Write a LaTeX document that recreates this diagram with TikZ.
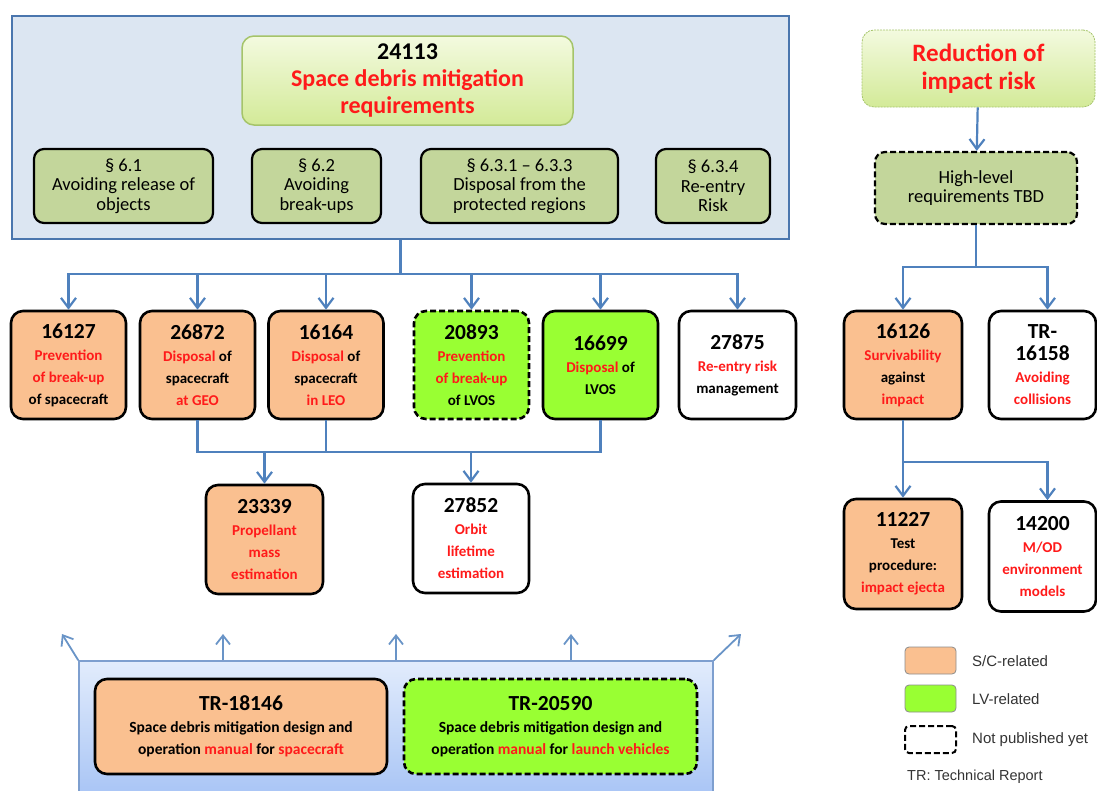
\documentclass[tikz,border=0pt]{standalone}
\usepackage{fontspec}
\setmainfont{Carlito}
\newfontfamily\legendfont{Liberation Sans}
\usetikzlibrary{arrows.meta,calc}

\definecolor{framefill}{HTML}{DCE6F2}
\definecolor{frameline}{HTML}{4A76AE}
\definecolor{connblue}{HTML}{4F81BD}
\definecolor{olive}{HTML}{C3D69B}
\definecolor{scorange}{HTML}{FAC090}
\definecolor{lvgreen}{HTML}{99FF33}
\definecolor{paletop}{HTML}{F3FADF}
\definecolor{palebot}{HTML}{D3EA98}
\definecolor{paleline}{HTML}{A5C46A}
\definecolor{tmtop}{HTML}{E2ECFC}
\definecolor{tmbot}{HTML}{A6C3F5}
\definecolor{tmline}{HTML}{7E9FCF}
\definecolor{hilite}{HTML}{FF1A1A}

\newcommand{\hl}[1]{\textcolor{hilite}{#1}}
\newcommand{\docno}[1]{{\fontsize{21.5}{22}\selectfont #1}}

\begin{document}
\begin{tikzpicture}[x=1pt,y=-1pt]
    % `frame' is the big box round 24113, `manuals' the box round the TRs.
    % `doc' is used for every standard box, `sect' for the § boxes.
    % `feed' is used for the blue arrows.
    \tikzstyle{frame} = [draw=frameline,fill=framefill,line width=2pt,inner sep=0pt]
    \tikzstyle{headbox} = [draw=paleline,top color=paletop,bottom color=palebot,line width=1.5pt,
                           rounded corners=12pt,align=center,inner sep=0pt,
                           font=\fontsize{24}{27}\selectfont\bfseries]
    \tikzstyle{sect} = [draw,fill=olive,line width=2.2pt,rounded corners=10pt,align=center,
                        inner sep=0pt,font=\fontsize{18.5}{19.5}\selectfont]
    \tikzstyle{doc} = [draw,fill=white,line width=2.6pt,rounded corners=12pt,align=center,
                       inner sep=0pt,minimum width=115,minimum height=108,
                       font=\fontsize{15}{22}\selectfont\bfseries]
    \tikzstyle{sc} = [fill=scorange]
    \tikzstyle{lv} = [fill=lvgreen]
    \tikzstyle{notyet} = [dash pattern=on 6pt off 3pt]
    \tikzstyle{conn} = [draw=connblue,line width=2.2pt]
    \tikzstyle{feed} = [conn,-{Straight Barb[length=10pt,width=15pt,line width=2.2pt]}]
    \tikzstyle{upfeed} = [draw=connblue!85!white,line width=1.8pt,-{Straight Barb[length=9pt,width=14pt,line width=1.8pt]}]
    \tikzstyle{swatch} = [draw=black!45,line width=0.8pt,rounded corners=4pt,minimum width=51,minimum height=27,inner sep=0pt]
    \tikzstyle{legend} = [anchor=west,inner sep=0pt,text=black!80,font=\legendfont\fontsize{15}{18}\selectfont]
    %
    \useasboundingbox (0,0) rectangle (1097,790);
    %
    % Requirements standard and its sections.
    \node[frame,minimum width=777,minimum height=223] (frame) at (400.5,127.5) {};
    \node[headbox,minimum width=331,minimum height=89] (req) at (407.5,80.5)
      {24113\\\hl{Space debris mitigation}\\\hl{requirements}};
    \node[sect,minimum width=179,minimum height=74] (s61) at (123.5,186) {§ 6.1\\Avoiding release of\\objects};
    \node[sect,minimum width=129,minimum height=74] (s62) at (316.5,186) {§ 6.2\\Avoiding\\break-ups};
    \node[sect,minimum width=197,minimum height=74] (s631) at (519.5,186) {§ 6.3.1 – 6.3.3\\Disposal from the\\protected regions};
    \node[sect,minimum width=114,minimum height=74] (s634) at (713,186) {§ 6.3.4\\Re-entry\\Risk};
    %
    % Second level.
    \node[doc,sc] (d16127) at (68.5,365) {\docno{16127}\\\hl{Prevention}\\\hl{of break-up}\\of spacecraft};
    \node[doc,sc] (d26872) at (197.5,365) {\docno{26872}\\\hl{Disposal} of\\spacecraft\\\hl{at GEO}};
    \node[doc,sc] (d16164) at (326,365) {\docno{16164}\\\hl{Disposal} of\\spacecraft\\\hl{in LEO}};
    \node[doc,lv,notyet] (d20893) at (471.5,365) {\docno{20893}\\\hl{Prevention}\\\hl{of break-up}\\of LVOS};
    \node[doc,lv] (d16699) at (600.5,365) {\docno{16699}\\\hl{Disposal} of\\LVOS};
    \node[doc,minimum width=117] (d27875) at (737.5,365) {\docno{27875}\\\hl{Re-entry risk}\\management};
    %
    % Third level.
    \node[doc,sc,minimum width=117,minimum height=109] (d23339) at (264.5,539.5) {\docno{23339}\\\hl{Propellant}\\\hl{mass}\\\hl{estimation}};
    \node[doc,minimum width=116,minimum height=109] (d27852) at (471,538.5) {\docno{27852}\\\hl{Orbit}\\\hl{lifetime}\\\hl{estimation}};
    %
    % Impact risk branch.
    \node[headbox,draw=paleline,line width=0.8pt,dash pattern=on 2pt off 1pt,
          minimum width=233,minimum height=77,font=\fontsize{25}{28}\selectfont\bfseries]
      (risk) at (978.5,68.5) {\hl{Reduction of}\\\hl{impact risk}};
    \node[sect,notyet,minimum width=202,minimum height=72] (tbd) at (976,188) {High-level\\requirements TBD};
    \node[doc,sc,minimum width=118] (d16126) at (903,365) {\docno{16126}\\\hl{Survivability}\\against\\\hl{impact}};
    \node[doc,minimum width=107] (d16158) at (1042.5,365) {\docno{TR-}\\\docno{16158}\\\hl{Avoiding}\\\hl{collisions}};
    \node[doc,sc,minimum width=118,minimum height=110] (d11227) at (903,554) {\docno{11227}\\Test\\procedure:\\\hl{impact ejecta}};
    \node[doc,minimum width=107,minimum height=110] (d14200) at (1042.5,556.5) {\docno{14200}\\\hl{M/OD}\\\hl{environment}\\\hl{models}};
    %
    % Technical reports.
    \node[draw=tmline,top color=tmtop,bottom color=tmbot,line width=1.5pt,
          minimum width=634,minimum height=140,inner sep=0pt] (manuals) at (396,731) {};
    \node[doc,sc,minimum width=292,minimum height=95,font=\fontsize{15.5}{22}\selectfont\bfseries] (tr18146) at (241,726.5)
      {\docno{TR-18146}\\Space debris mitigation\ design and\\operation \hl{manual} for \hl{spacecraft}};
    \node[doc,lv,notyet,minimum width=293,minimum height=95,font=\fontsize{15.5}{22}\selectfont\bfseries] (tr20590) at (550.5,726.5)
      {\docno{TR-20590}\\Space debris mitigation\ design and\\operation \hl{manual} for \hl{launch vehicles}};
    %
    % Legend.
    \node[swatch,fill=scorange] (keysc) at (930.5,660.5) {};
    \node[swatch,fill=lvgreen] (keylv) at (930.5,698.5) {};
    \node[swatch,draw=black,line width=2pt,notyet,fill=white] (keyny) at (930.5,739.5) {};
    \node[legend] (labsc) at (972,661) {S/C-related};
    \node[legend] (lablv) at (972,699) {LV-related};
    \node[legend] (labny) at (972,740) {Not published yet};
    \node[legend,font=\legendfont\fontsize{14.5}{18}\selectfont] (labtr) at (907,777) {TR: Technical Report};
    %
    % Draw lines.
    \coordinate (bus1) at (400.5,274);
    \foreach \n in {d16127,d26872,d16164,d20893,d16699,d27875}
      \draw[feed] (frame.south) -- (bus1) -| (\n.north);
    \coordinate (bus2) at (0,452);
    \draw[conn] (d26872.south) -- (d26872.south |- bus2) -- (d16699.south |- bus2) -- (d16699.south);
    \draw[conn] (d16164.south) -- (d16164.south |- bus2);
    \draw[feed] (d23339.north |- bus2) -- (d23339.north);
    \draw[feed] (d27852.north |- bus2) -- (d27852.north);
    \draw[feed] (risk) -- (tbd);
    \coordinate (bus3) at (976,267);
    \draw[feed] (tbd.south) -- (bus3) -| (d16126.north);
    \draw[feed] (tbd.south) -- (bus3) -| ($(d16158.north)+(5,0)$);
    \coordinate (bus4) at (903,462);
    \draw[feed] (d16126.south) -- (bus4) -| (d11227.north);
    \draw[feed] (d16126.south) -- (bus4) -| ($(d14200.north)+(5,0)$);
    % Arrows leaving the manuals.
    \coordinate (up1) at (62,634);
    \coordinate (up2) at (223,634);
    \coordinate (up3) at (396,634);
    \coordinate (up4) at (571,634);
    \coordinate (up5) at (741,634);
    \draw[upfeed] (manuals.north west) -- (up1);
    \draw[upfeed] (manuals.north -| up2) -- (up2);
    \draw[upfeed] (manuals.north) -- (up3);
    \draw[upfeed] (manuals.north -| up4) -- (up4);
    \draw[upfeed] (manuals.north east) -- (up5);
\end{tikzpicture}
\end{document}
